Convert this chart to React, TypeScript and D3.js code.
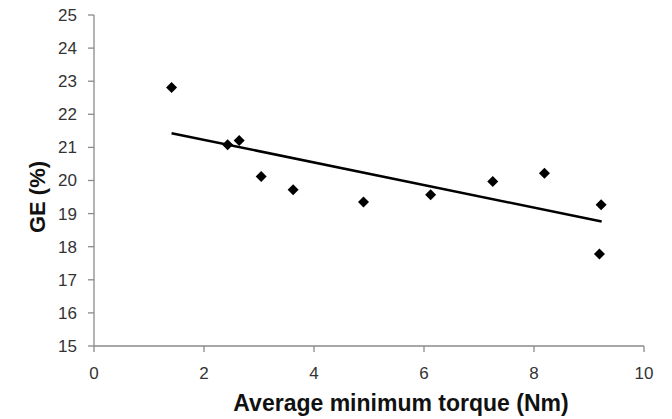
import React from "react";
import * as d3 from "d3";

const xTicks = [0, 2, 4, 6, 8, 10];
const yTicks = [15, 16, 17, 18, 19, 20, 21, 22, 23, 24, 25];
const torque = [1.41, 2.43, 2.64, 3.04, 3.62, 4.9, 6.12, 7.25, 8.19, 9.22, 9.19];
const ge = [22.81, 21.08, 21.21, 20.12, 19.72, 19.35, 19.57, 19.97, 20.22, 19.27, 17.78];
const trendX = [1.41, 9.23];
const trendY = [21.43, 18.76];
const xTitle = "Average minimum torque (Nm)";
const yTitle = "GE (%)";

const W = 672, H = 419;
const x = d3.scaleLinear().domain([0, 10]).range([94, 644]);
const y = d3.scaleLinear().domain([15, 25]).range([346, 15]);

export default function App() {
  const axisColor = "#8a8a8a";
  const line = d3.line<number>().x((d, i) => x(trendX[i])).y((d) => y(d));
  const r = 5.5;
  return (
    <svg width={W} height={H} style={{ position: "absolute", left: 0, top: 0, background: "#fff" }}
      fontFamily="'Liberation Sans', Arial, sans-serif">
      <line x1={x(0)} x2={x(0)} y1={y(25)} y2={y(15)} stroke={axisColor} strokeWidth={1.3} />
      <line x1={x(0)} x2={x(10)} y1={y(15)} y2={y(15)} stroke={axisColor} strokeWidth={1.3} />
      {yTicks.map((t) => (
        <g key={"y" + t}>
          <line x1={x(0) - 6} x2={x(0)} y1={y(t)} y2={y(t)} stroke={axisColor} strokeWidth={1.3} />
          <text x={77} y={y(t)} dy="0.35em" textAnchor="end" fontSize={17} fill="#333">{t}</text>
        </g>
      ))}
      {xTicks.map((t) => (
        <g key={"x" + t}>
          <line x1={x(t)} x2={x(t)} y1={y(15)} y2={y(15) + 6} stroke={axisColor} strokeWidth={1.3} />
          <text x={x(t)} y={373.5} dy="0.35em" textAnchor="middle" fontSize={17} fill="#333">{t}</text>
        </g>
      ))}
      <path d={line(trendY) || ""} stroke="#000" strokeWidth={2.5} fill="none" />
      {torque.map((tx, i) => {
        const cx = x(tx), cy = y(ge[i]);
        return (
          <path key={"p" + i} d={`M${cx},${cy - r}L${cx + r},${cy}L${cx},${cy + r}L${cx - r},${cy}Z`} fill="#000" />
        );
      })}
      <text x={401} y={411} textAnchor="middle" fontSize={23} fontWeight="bold" fill="#111">{xTitle}</text>
      <text transform={`translate(37,197) rotate(-90)`} textAnchor="middle" dy="0.35em" fontSize={22} fontWeight="bold" fill="#111">{yTitle}</text>
    </svg>
  );
}
